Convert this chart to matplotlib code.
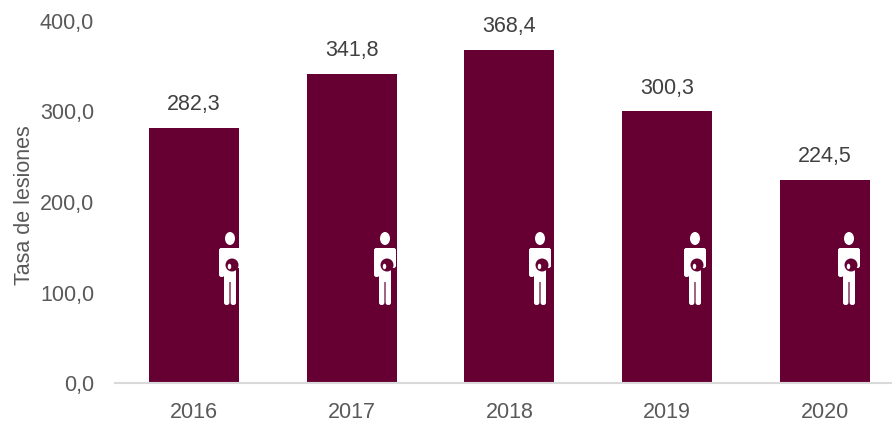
import matplotlib
matplotlib.use("Agg")
import matplotlib.pyplot as plt
from matplotlib.patches import Ellipse, FancyBboxPatch, Rectangle
from matplotlib.transforms import IdentityTransform

WIDTH, HEIGHT = 892, 426
BAR_COLOR = "#660033"

years = ["2016", "2017", "2018", "2019", "2020"]
rates = [282.3, 341.8, 368.4, 300.3, 224.5]
y_ticks = [0, 100, 200, 300, 400]
icon_centers = [230, 385, 540, 695, 849]

plt.rcParams["font.family"] = ["Liberation Sans", "DejaVu Sans"]

fig = plt.figure(figsize=(WIDTH / 100, HEIGHT / 100), dpi=100)
ax = fig.add_axes([115 / WIDTH, (HEIGHT - 383) / HEIGHT, (WIDTH - 115) / WIDTH, 362 / HEIGHT])

x = list(range(len(years)))
ax.bar(x, rates, width=0.57, color=BAR_COLOR, zorder=2)
ax.set_xlim(-0.5, 4.425)
ax.set_ylim(0, 400)

for s in ("top", "right", "left"):
    ax.spines[s].set_visible(False)
ax.spines["bottom"].set_color("#D9D9D9")
ax.spines["bottom"].set_linewidth(1.5)

ax.set_xticks(x, years)
ax.set_yticks(y_ticks, [f"{v:.1f}".replace(".", ",") for v in y_ticks])
ax.tick_params(axis="both", length=0, labelcolor="#595959", labelsize=15.5)
ax.tick_params(axis="x", pad=13.5)
ax.tick_params(axis="y", pad=15)
ax.set_ylabel("Tasa de lesiones", fontsize=15.5, color="#595959")
ax.yaxis.set_label_coords(-80 / (WIDTH - 115), 0.49)

for xi, v in zip(x, rates):
    ax.annotate(f"{v:.1f}".replace(".", ","), (xi, v), xytext=(0, 9), textcoords="offset points",
                ha="center", va="bottom", fontsize=15.5, color="#404040")


def add_figure_icon(cx):
    # Small pictogram of a person with a dark mark on the abdomen, in pixel units from the top.
    def px(a, b):
        return a, HEIGHT - b

    def add(p):
        p.set_transform(IdentityTransform())
        p.set_clip_on(False)
        p.set_zorder(5)
        fig.add_artist(p)

    white = dict(facecolor="white", edgecolor="none")
    add(Ellipse(px(cx, 238.5), 10, 13, **white))
    add(FancyBboxPatch(px(cx - 11, 277), 5.5, 29, boxstyle="round,pad=0,rounding_size=2.4", **white))
    add(FancyBboxPatch(px(cx + 5.5, 268), 5.5, 20, boxstyle="round,pad=0,rounding_size=2.4", **white))
    add(FancyBboxPatch(px(cx - 11, 262), 22, 14, boxstyle="round,pad=0,rounding_size=3", **white))
    add(Rectangle(px(cx - 6, 282), 12, 26, **white))
    add(FancyBboxPatch(px(cx - 6, 305), 5.4, 30, boxstyle="round,pad=0,rounding_size=2.4", **white))
    add(FancyBboxPatch(px(cx + 0.6, 305), 5.4, 30, boxstyle="round,pad=0,rounding_size=2.4", **white))
    add(Ellipse(px(cx + 2, 265), 13, 13, facecolor=BAR_COLOR, edgecolor="none"))
    add(Ellipse(px(cx - 0.5, 266.5), 3.5, 5.5, **white))


for c in icon_centers:
    add_figure_icon(c)

fig.savefig("out.png", dpi=100)
